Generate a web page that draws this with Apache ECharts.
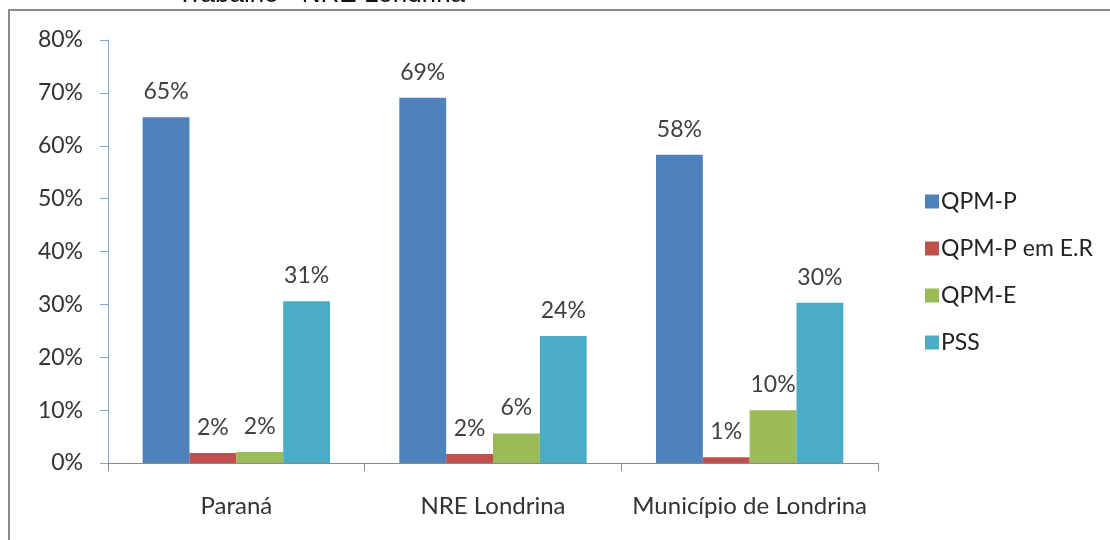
<!DOCTYPE html>
<html>
<head>
<meta charset="utf-8">
<script src="https://cdn.jsdelivr.net/npm/echarts@6/dist/echarts.min.js"></script>
<style>
  html, body { margin: 0; padding: 0; background: #fff; }
  #chart { width: 1110px; height: 540px; }
</style>
</head>
<body>
<div id="chart"></div>
<script>
// categorias e valores (%)
var categorias = ['Paraná', 'NRE Londrina', 'Município de Londrina'];
var nomesSeries = ['QPM-P', 'QPM-P em E.R', 'QPM-E', 'PSS'];
var qpmP = [65.4, 69.1, 58.3];
var qpmPER = [1.9, 1.7, 1.1];
var qpmE = [2.1, 5.6, 10.0];
var pss = [30.6, 24.0, 30.3];
var cores = ['#4F81BD', '#C0504D', '#9BBB59', '#4BACC6'];

var fonte = 'Lato, "Open Sans", sans-serif';

function serie(nome, dados, cor) {
	return {
		name: nome,
		type: 'bar',
		data: dados,
		barGap: '0%',
		barCategoryGap: '27%',
		itemStyle: { color: cor },
		label: {
			show: true,
			position: 'top',
			distance: 14,
			formatter: function (p) { return Math.round(p.value) + '%'; },
			color: '#404040',
			fontFamily: fonte,
			fontSize: 23
		}
	};
}

var myChart = echarts.init(document.getElementById('chart'));

var option = {
	backgroundColor: '#fff',
	animation: false,
	graphic: [
		{
			type: 'rect',
			shape: { x: 9, y: 10, width: 1300, height: 700 },
			style: { fill: 'none', stroke: '#8c8c8c', lineWidth: 2 },
			silent: true
		},
		{
			type: 'text',
			left: 177,
			top: -18,
			style: {
				text: 'Trabalho - NRE Londrina',
				font: '26px "Liberation Sans", Arial, sans-serif',
				fill: '#111'
			},
			silent: true
		}
	],
	legend: {
		orient: 'vertical',
		left: 920,
		top: 185,
		itemWidth: 14,
		itemHeight: 14,
		itemGap: 24,
		icon: 'rect',
		data: nomesSeries,
		textStyle: { fontFamily: fonte, fontSize: 23, lineHeight: 22, color: '#222', padding: [0, 0, 0, -3] }
	},
	grid: {
		left: 108,
		right: 232,
		top: 40,
		bottom: 77,
		containLabel: false
	},
	xAxis: {
		type: 'category',
		data: categorias,
		axisLine: { lineStyle: { color: '#8a8a8a', width: 1 } },
		axisTick: { show: true, length: 8, lineStyle: { color: '#8a8a8a' } },
		axisLabel: { interval: 0, hideOverlap: false, fontFamily: fonte, fontSize: 24, color: '#333', margin: 31 }
	},
	yAxis: {
		type: 'value',
		min: 0,
		max: 80,
		interval: 10,
		axisLine: { show: true, lineStyle: { color: '#86a8d3', width: 1 } },
		axisTick: { show: true, length: 8, lineStyle: { color: '#86a8d3' } },
		splitLine: { show: false },
		axisLabel: {
			formatter: '{value}%',
			fontFamily: fonte,
			fontSize: 23,
			color: '#333',
			margin: 25
		}
	},
	series: [
		serie(nomesSeries[0], qpmP, cores[0]),
		serie(nomesSeries[1], qpmPER, cores[1]),
		serie(nomesSeries[2], qpmE, cores[2]),
		serie(nomesSeries[3], pss, cores[3])
	]
};

myChart.setOption(option);
</script>
</body>
</html>
